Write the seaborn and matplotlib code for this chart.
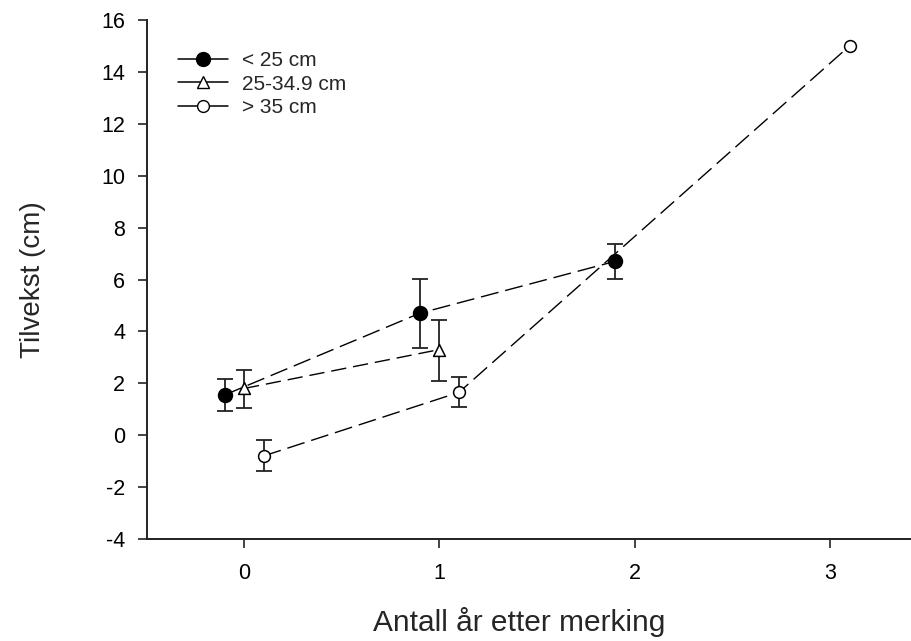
import matplotlib
matplotlib.use("Agg")
import matplotlib.pyplot as plt
from matplotlib.lines import Line2D
import seaborn as sns
import pandas as pd
import numpy as np

# Data
labels = ["< 25 cm", "25-34.9 cm", "> 35 cm"]
x_small = [-0.1, 0.9, 1.9]
y_small = [1.55, 4.7, 6.7]
lo_small = [0.93, 3.37, 6.02]
hi_small = [2.15, 6.02, 7.37]

x_mid = [0.0, 1.0]
y_mid = [1.8, 3.3]
lo_mid = [1.06, 2.07]
hi_mid = [2.53, 4.44]

x_large = [0.1, 1.1, 3.1]
y_large = [-0.8, 1.65, 15.0]
lo_large = [-1.38, 1.08, np.nan]
hi_large = [-0.2, 2.24, np.nan]

xticks = [0, 1, 2, 3]
yticks = list(range(-4, 17, 2))

sns.set_style("ticks")
plt.rcParams["font.family"] = ["Liberation Sans", "DejaVu Sans"]
plt.rcParams["axes.unicode_minus"] = False

W, H = 912, 641
fig = plt.figure(figsize=(W / 100, H / 100), dpi=100)
ax = fig.add_axes([147 / W, (H - 539) / H, (W - 147) / W, (539 - 20) / H])

series = [
    (x_small, y_small, lo_small, hi_small, "o", "black", 10, (13, 5)),
    (x_mid, y_mid, lo_mid, hi_mid, "^", "white", 8.5, (11, 5)),
    (x_large, y_large, lo_large, hi_large, "o", "white", 8.5, (13, 5)),
]

for lab, (xs, ys, lo, hi, mk, fc, ms, dash) in zip(labels, series):
    df = pd.DataFrame({"x": xs, "y": ys})
    sns.lineplot(data=df, x="x", y="y", ax=ax, color="black", lw=1.0,
                 sort=False, legend=False, zorder=2)
    ax.lines[-1].set_dashes(dash)
    ys_a = np.array(ys)
    lo_a = np.array(lo)
    hi_a = np.array(hi)
    mask = ~np.isnan(lo_a)
    ax.errorbar(np.array(xs)[mask], ys_a[mask],
                yerr=[ys_a[mask] - lo_a[mask], hi_a[mask] - ys_a[mask]],
                fmt="none", ecolor="#222222", elinewidth=1.3, capsize=5.8,
                capthick=1.3, zorder=3)
    sns.scatterplot(data=df, x="x", y="y", ax=ax, marker=mk, s=ms**2,
                    color=fc, edgecolor="black", linewidth=1.1, zorder=4,
                    legend=False)

ax.set_xlim(-0.497, 3.42)
ax.set_ylim(-4, 16)
ax.set_xticks(xticks)
ax.set_yticks(yticks)
ax.tick_params(axis="both", direction="out", length=6.3, width=1.2,
               labelsize=15.5, colors="#222222", labelcolor="black")
ax.tick_params(axis="y", pad=9.5)
ax.tick_params(axis="x", pad=11)
for s in ["top", "right"]:
    ax.spines[s].set_visible(False)
for s in ["left", "bottom"]:
    ax.spines[s].set_linewidth(1.4)
    ax.spines[s].set_color("#222222")

ax.set_xlabel("Antall år etter merking", fontsize=21.5)
ax.xaxis.set_label_coords((519 - 147) / 765, (539 - 607) / 519)
ax.set_ylabel("Tilvekst (cm)", fontsize=20)
ax.yaxis.set_label_coords((46 - 147) / 765, 0.5)

handles = [
    Line2D([0], [0], color="black", lw=1.1, marker="o", ms=10,
           mfc="black", mec="black"),
    Line2D([0], [0], color="black", lw=1.1, marker="^", ms=8,
           mfc="white", mec="black"),
    Line2D([0], [0], color="black", lw=1.1, marker="o", ms=8.5,
           mfc="white", mec="black"),
]
ax.legend(handles, labels, loc="upper left",
          bbox_to_anchor=(178 / W, 1 - 51 / H), bbox_transform=fig.transFigure,
          frameon=False, fontsize=15, handlelength=2.4, handletextpad=0.65,
          labelspacing=0.22, borderpad=0, borderaxespad=0)

fig.savefig("out.png", dpi=100)
